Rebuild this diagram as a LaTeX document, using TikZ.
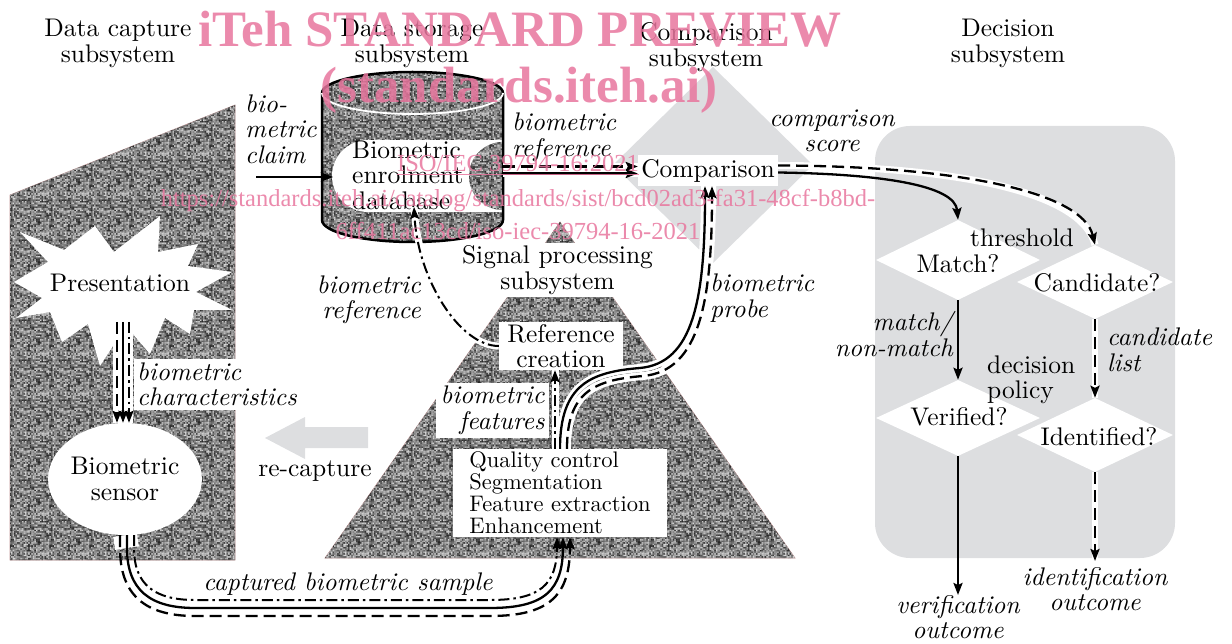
\documentclass[tikz,border=0pt]{standalone}
\usepackage{fontspec}
\setmainfont{lmroman10}[Extension=.otf, UprightFont=*-regular, ItalicFont=*-italic, BoldFont=*-bold]
\newfontfamily\wmfont{Liberation Serif}
\usetikzlibrary{arrows.meta, positioning, calc, shapes.geometric, patterns}

\definecolor{panelgray}{RGB}{221,222,224}
\definecolor{grain}{RGB}{125,125,125}
\definecolor{wmpink}{RGB}{232,118,158}
\definecolor{edgepink}{RGB}{196,150,150}

\newcommand{\mainsz}{\fontsize{25.5}{25.5}\selectfont}
\newcommand{\listsz}{\fontsize{22.5}{22}\selectfont}

% grainy grey fill for the subsystem shapes
\pgfdeclarepatterninherentlycolored{speckle}
  {\pgfpointorigin}{\pgfqpoint{40pt}{40pt}}{\pgfqpoint{40pt}{40pt}}
  {%
    \pgfmathsetseed{4711}%
    \foreach \i in {0,...,24}{%
      \foreach \j in {0,...,24}{%
        \pgfmathsetmacro\lev{int(15+70*rnd)}%
        \pgfmathsetmacro\px{1.6*\i}%
        \pgfmathsetmacro\py{1.6*\j}%
        \pgfsetfillcolor{white!\lev!black}%
        \pgfpathrectangle{\pgfqpoint{\px pt}{\py pt}}{\pgfqpoint{1.6pt}{1.6pt}}%
        \pgfusepath{fill}%
      }%
    }%
  }

\begin{document}
\begin{tikzpicture}[x=1pt, y=-1pt,
  txt/.style={font=\mainsz, align=center, inner sep=0pt},
  lbl/.style={font=\mainsz\itshape, align=center, inner sep=0pt},
  wbox/.style={fill=white, font=\mainsz, align=center, inner sep=0pt},
  dia/.style={diamond, fill=white, inner sep=0pt},
  arr/.style={-{Stealth[length=12pt, width=9pt, inset=2pt]}},
  vline/.style={line width=2.3pt},
  iline/.style={line width=2.3pt, dash pattern=on 12pt off 6pt},
  eline/.style={line width=2pt, dash pattern=on 11pt off 4pt on 2.5pt off 4pt},
  casing/.style={preaction={draw=white, solid, line width=#1, arrows=-}},
  casing/.default=6pt,
  texture/.style={fill=grain, postaction={pattern=speckle}, draw=edgepink, line width=0.6pt},
  wmark/.style={text=wmpink, opacity=0.85, inner sep=0pt, anchor=base}
]
\useasboundingbox (0,0) rectangle (1232,644);

% light grey backdrops
\fill[panelgray] (713,67) -- (813,165) -- (713,263) -- (613,165) -- cycle;
\fill[panelgray, rounded corners=35pt] (875,126) rectangle (1175,558);
\fill[panelgray] (368,427) -- (305,427) -- (305,417) -- (265,438) -- (305,459) -- (305,448) -- (368,448) -- cycle;

% data capture
\draw[texture] (10,195) -- (235,105) -- (235,560) -- (10,560) -- cycle;
\fill[white] (14,282) -- (48,262) -- (20,232) -- (64,250) -- (95,226) -- (114,252)
  -- (160,216) -- (158,252) -- (198,244) -- (188,266) -- (232,272) -- (196,292)
  -- (232,310) -- (194,310) -- (190,334) -- (165,318) -- (150,354) -- (126,326)
  -- (100,366) -- (88,324) -- (62,342) -- (50,312) -- (16,318) -- (42,298) -- cycle;
\node[txt] (pres) at (120,283) {Presentation};
\node[ellipse, fill=white, minimum width=130pt, minimum height=112pt, txt] (sensor) at (125,479) {Biometric\\sensor};

% signal processing
\draw[texture] (560,222) -- (795,558) -- (325,558) -- cycle;

% data storage cylinder
\fill[texture, draw=none] (322,93) rectangle (503,220);
\fill[texture, draw=none] (412.5,220) ellipse[x radius=90.5, y radius=22];
\fill[texture, draw=none] (412.5,93) ellipse[x radius=90.5, y radius=21];
\fill[white] (368,176) circle[radius=36];
\fill[white] (368,140) rectangle (503,212);
\fill[texture, draw=none] (503,142) arc[start angle=270, end angle=90, radius=34] -- cycle;
\draw[line width=2.5pt] (503,93) arc[start angle=0, end angle=-180, x radius=90.5, y radius=21]
  -- (322,220) arc[start angle=180, end angle=0, x radius=90.5, y radius=22] -- cycle;
\draw[white, line width=1.8pt] (322,93) arc[start angle=180, end angle=0, x radius=90.5, y radius=21];
\node[txt, align=left, anchor=west] (db) at (352,175) {Biometric\\enrolment\\database};

% boxes
\node[wbox, minimum width=205pt, minimum height=54pt] (sigproc) at (557.5,270) {Signal processing\\subsystem};
\node[wbox, minimum width=124pt, minimum height=48pt] (refcr) at (561,346) {Reference\\creation};
\node[wbox, font=\mainsz\itshape, align=right, minimum width=113pt, minimum height=55pt] (feat) at (492.5,410.5) {biometric\\features};
\node[wbox, font=\listsz, align=left, minimum width=214pt, minimum height=88pt] (qual) at (560,493)
  {Quality control\\Segmentation\\Feature extraction\\Enhancement};
\node[wbox, minimum width=140pt, minimum height=31pt] (comp) at (708,170.5) {Comparison};

% decision
\node[dia, minimum width=164pt, minimum height=80pt] (match) at (958,260) {};
\node[dia, minimum width=156pt, minimum height=74pt] (cand) at (1095,282) {};
\node[dia, minimum width=164pt, minimum height=76pt] (verif) at (958,418) {};
\node[dia, minimum width=156pt, minimum height=74pt] (ident) at (1095,435) {};
\node[txt] (matchtxt) at (958,264) {Match?};
\node[txt] (candtxt) at (1097,283) {Candidate?};
\node[txt] (veriftxt) at (959,417) {Verified?};
\node[txt] (identtxt) at (1099,437) {Identified?};
\node[txt] (thresh) at (1022,238) {threshold};
\node[txt, align=left, anchor=west] (policy) at (987,380) {decision\\policy};
\coordinate (verout) at (958,595);
\coordinate (idout) at (1095,561);

% connectors
\coordinate (clmstart) at (256,177);
\coordinate (dbin) at (333,177);
\draw[vline, arr] (clmstart) -- (dbin);

\coordinate (dbout) at (503,170.5);
\draw[white, line width=14pt] (dbout) -- (comp.west);
\draw[iline, arr] ([yshift=4pt]dbout) -- ([yshift=4pt]comp.west);
\draw[vline, arr] ([yshift=-3pt]dbout) -- ([yshift=-3pt]comp.west);

\draw[iline, arr, casing=8pt] ([xshift=7pt]qual.north) .. controls (567,392) and (594,380) .. (643,376)
  .. controls (700,371) and (712,300) .. ([xshift=4pt]comp.south);
\draw[vline, arr, casing=8pt] (qual.north) .. controls (560,385) and (590,372) .. (640,368)
  .. controls (693,363) and (705,300) .. ([xshift=-3pt]comp.south);

\draw[eline, arr, casing=7pt] ([xshift=-5pt]qual.north) -- ([xshift=-6pt]refcr.south);
\coordinate (dbbot) at (414,207);
\draw[eline, arr, casing=7pt] (refcr.west) .. controls (460,346) and (418,280) .. (dbbot);

\coordinate (chtop) at (123,322);
\coordinate (chbot) at ([xshift=-2pt]sensor.north);
\draw[white, line width=20pt] (chtop) -- (chbot);
\draw[iline, arr] ([xshift=-6pt]chtop) -- ([xshift=-6pt]chbot);
\draw[vline, arr] (chtop) -- (chbot);
\draw[eline, arr] ([xshift=6pt]chtop) -- ([xshift=6pt]chbot);

\draw[white, line width=24pt] (sensor.south) -- (127,548);
\draw[iline, arr] ([xshift=-5pt]sensor.south) -- (120,548) .. controls (120,595) and (145,616) .. (195,616)
  -- (490,616) .. controls (550,616) and (570,595) .. ([xshift=10pt]qual.south);
\draw[vline, arr] ([xshift=2pt]sensor.south) -- (127,548) .. controls (127,590) and (150,608) .. (195,608)
  -- (490,608) .. controls (545,608) and (563,590) .. ([xshift=3pt]qual.south);
\draw[eline, arr] ([xshift=9pt]sensor.south) -- (134,548) .. controls (134,585) and (155,600) .. (195,600)
  -- (490,600) .. controls (540,600) and (557,585) .. ([xshift=-3pt]qual.south);

\draw[vline, arr] ([yshift=-2pt]comp.east) .. controls (880,174) and (955,185) .. (match.north);
\draw[iline, arr, casing=7pt] ([yshift=5pt]comp.east) .. controls (950,166) and (1082,190) .. (cand.north);
\draw[vline, arr] (match.south) -- (verif.north);
\draw[iline, arr, casing=6pt] (cand.south) -- (ident.north);
\draw[vline, arr] (verif.south) -- (verout);
\draw[iline, arr, casing=6pt] (ident.south) -- (idout);

% labels
\node[txt] (hcap) at (118,43.5) {Data capture\\subsystem};
\node[txt] (hstore) at (412,43.5) {Data storage\\subsystem};
\node[txt] (hcomp) at (706,47) {Comparison\\subsystem};
\node[txt] (hdec) at (1008,43.5) {Decision\\subsystem};
\node[lbl, align=left, anchor=west] (claimlbl) at (245,129) {bio-\\metric\\claim};
\node[lbl, align=left, anchor=west] (reflbl) at (512,137.5) {biometric\\reference};
\node[lbl] (scorelbl) at (832,131) {comparison\\score};
\node[wbox, font=\mainsz\itshape, align=left, anchor=west, inner xsep=3pt, inner ysep=4pt] (charlbl) at (134,384.5) {biometric\\characteristics};
\node[txt] (recap) at (315,471) {re-capture};
\node[lbl, align=right, anchor=east] (storelbl) at (421,300) {biometric\\reference};
\node[lbl, align=left, anchor=west] (probelbl) at (710,298) {biometric\\probe};
\node[lbl] (samplelbl) at (348,584) {captured biometric sample};
\node[lbl, align=right, anchor=east] (mnmlbl) at (953,334) {match/\\non-match};
\node[lbl, align=left, anchor=west] (candlbl) at (1107,350) {candidate\\list};
\node[lbl] (verlbl) at (958,617) {verification\\outcome};
\node[lbl] (idlbl) at (1095,589) {identification\\outcome};

% watermark
\node[wmark, font=\wmfont\bfseries\fontsize{51}{51}\selectfont] (wm1) at (520,47) {iTeh STANDARD PREVIEW};
\node[wmark, font=\wmfont\bfseries\fontsize{51}{51}\selectfont] (wm2) at (519,103) {(standards.iteh.ai)};
\node[wmark, font=\wmfont\fontsize{24.5}{24.5}\selectfont] (wm3) at (518,172) {\underline{ISO/IEC 39794-16:2021}};
\node[wmark, font=\wmfont\fontsize{24.5}{24.5}\selectfont] (wm4) at (518,207) {https://standards.iteh.ai/catalog/standards/sist/bcd02ad3-fa31-48cf-b8bd-};
\node[wmark, font=\wmfont\fontsize{24.5}{24.5}\selectfont] (wm5) at (518,240) {6ff411ac13cd/iso-iec-39794-16-2021};
\end{tikzpicture}
\end{document}
